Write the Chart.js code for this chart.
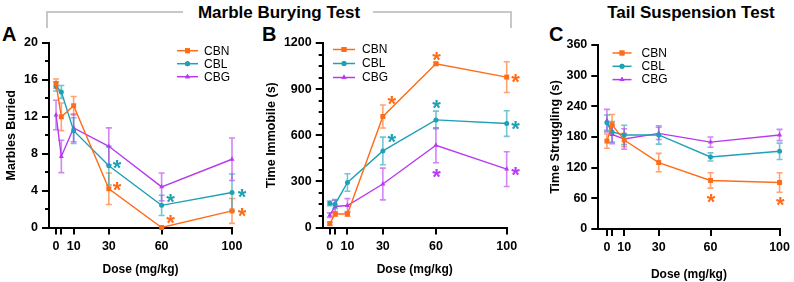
<!DOCTYPE html>
<html><head><meta charset="utf-8">
<script src="https://cdn.jsdelivr.net/npm/chart.js@4/dist/chart.umd.min.js"></script>
<style>
body{margin:0;width:794px;height:282px;overflow:hidden;background:#fff;font-family:"Liberation Sans",Arial,sans-serif;position:relative}
canvas{position:absolute;top:0}
.lbl{position:absolute;font-weight:bold;font-size:20px;line-height:20px;color:#000}
.hdr{position:absolute;font-weight:bold;font-size:17px;line-height:17px;transform:translate(-50%,-50%);white-space:nowrap;color:#000}
.br{position:absolute;background:#c8c8c8}
</style></head><body>
<div class="br" style="left:46px;top:11px;width:137px;height:2px"></div>
<div class="br" style="left:373px;top:11px;width:139px;height:2px"></div>
<div class="br" style="left:46px;top:11px;width:2px;height:17px"></div>
<div class="br" style="left:510px;top:11px;width:2px;height:17px"></div>
<div class="hdr" style="left:279px;top:12px">Marble Burying Test</div>
<div class="hdr" style="left:691px;top:12px">Tail Suspension Test</div>
<div class="lbl" style="left:2px;top:24px">A</div>
<div class="lbl" style="left:262px;top:24px">B</div>
<div class="lbl" style="left:549px;top:24px">C</div>
<canvas id="cA" width="262" height="282" style="left:0px"></canvas>
<canvas id="cB" width="268" height="282" style="left:262px"></canvas>
<canvas id="cC" width="264" height="282" style="left:530px"></canvas>
<script>
// ---- data ----
const doses = [0, 3, 10, 30, 60, 100];
const doseTickLabels = ['0', '', '10', '30', '60', '100'];
const seriesNames = ['CBN', 'CBL', 'CBG'];

// Panel A: Marbles Buried
const mbCBN = [15.6, 12.0, 13.2, 4.2, 0.0, 1.8];
const mbCBN_err = [0.5, 1.5, 1.0, 1.7, 0.1, 1.35];
const mbCBL = [15.3, 14.7, 10.5, 6.7, 2.4, 3.8];
const mbCBL_err = [0.5, 0.7, 1.4, 2.1, 1.1, 2.0];
const mbCBG = [12.2, 7.7, 10.8, 8.8, 4.4, 7.4];
const mbCBG_err = [1.6, 1.75, 1.5, 2.0, 1.5, 2.3];
const mbStars = [
  {x: 34.7, y: 7.0, s: 'CBL'}, {x: 34.7, y: 4.7, s: 'CBN'},
  {x: 65, y: 3.4, s: 'CBL'}, {x: 65, y: 1.05, s: 'CBN'},
  {x: 105.7, y: 3.95, s: 'CBL'}, {x: 105.7, y: 1.8, s: 'CBN'}
];

// Panel B: Time Immobile (s)
const tiCBN = [25, 88, 88, 722, 1065, 978];
const tiCBN_err = [10, 15, 15, 75, 10, 100];
const tiCBL = [157, 152, 293, 498, 700, 676];
const tiCBL_err = [15, 30, 57, 90, 57, 83];
const tiCBG = [80, 137, 143, 283, 535, 380];
const tiCBG_err = [15, 40, 45, 103, 114, 113];
const tiStars = [
  {x: 35, y: 839, s: 'CBN'}, {x: 35, y: 593, s: 'CBL'},
  {x: 60.3, y: 1128, s: 'CBN'}, {x: 60.3, y: 813, s: 'CBL'}, {x: 60.3, y: 363, s: 'CBG'},
  {x: 105, y: 983, s: 'CBN'}, {x: 105, y: 678, s: 'CBL'}, {x: 105, y: 374, s: 'CBG'}
];

// Panel C: Time Struggling (s)
const tsCBN = [172, 204, 174, 130, 95, 91];
const tsCBN_err = [14, 20, 13, 18, 15, 19];
const tsCBL = [208, 190, 184, 184, 141, 152];
const tsCBL_err = [15, 20, 19, 18, 8, 16];
const tsCBG = [212, 185, 176, 187, 170, 184];
const tsCBG_err = [22, 18, 20, 12, 10, 11];
const tsStars = [{x: 60.3, y: 64, s: 'CBN'}, {x: 100.4, y: 57, s: 'CBN'}];

// ---- styles ----
const COLORS = {CBN: 'rgb(255,108,24)', CBL: 'rgb(30,161,181)', CBG: 'rgb(184,58,240)'};
const ERRCOL = {CBN: 'rgba(255,108,24,0.62)', CBL: 'rgba(30,161,181,0.62)', CBG: 'rgba(184,58,240,0.62)'};
const PSTYLE = {CBN: 'rect', CBL: 'circle', CBG: 'triangle'};
const PRAD = {CBN: 3.5, CBL: 2.5, CBG: 2.9};
const FONT = '"Liberation Sans", Arial, sans-serif';

const extras = {
  id: 'extras',
  beforeDatasetsDraw(chart, args, o) {
    const ctx = chart.ctx, xs = chart.scales.x, ys = chart.scales.y;
    ctx.save();
    o.errors.forEach((errs, di) => {
      const name = seriesNames[di];
      const vals = chart.data.datasets[di].data;
      ctx.strokeStyle = ERRCOL[name];
      ctx.lineWidth = 1.6;
      vals.forEach((p, i) => {
        const e = errs[i];
        if (!e) return;
        const px = xs.getPixelForValue(p.x);
        const y1 = ys.getPixelForValue(p.y + e), y2 = ys.getPixelForValue(Math.max(ys.min, p.y - e));
        ctx.beginPath();
        ctx.moveTo(px, y1); ctx.lineTo(px, y2);
        ctx.moveTo(px - 3, y1); ctx.lineTo(px + 3, y1);
        if (p.y - e >= ys.min) { ctx.moveTo(px - 3, y2); ctx.lineTo(px + 3, y2); }
        ctx.stroke();
      });
    });
    ctx.restore();
  },
  afterDraw(chart, args, o) {
    const ctx = chart.ctx, xs = chart.scales.x, ys = chart.scales.y, ca = chart.chartArea;
    ctx.save();
    if (o.minor) {
      ctx.strokeStyle = '#000'; ctx.lineWidth = 2;
      for (let v = ys.min; v <= ys.max + 1e-9; v += o.minor) {
        if (Math.abs(v / o.major - Math.round(v / o.major)) < 1e-6) continue;
        const py = Math.round(ys.getPixelForValue(v));
        ctx.beginPath(); ctx.moveTo(ca.left, py); ctx.lineTo(ca.left - 4, py); ctx.stroke();
      }
    }
    ctx.font = 'bold 22px ' + FONT;
    ctx.textAlign = 'center'; ctx.textBaseline = 'alphabetic';
    o.stars.forEach(s => {
      ctx.fillStyle = COLORS[s.s];
      ctx.fillText('*', xs.getPixelForValue(s.x), ys.getPixelForValue(s.y) + 12.5);
    });
    const L = o.legend;
    ctx.font = '12px ' + FONT; ctx.textAlign = 'left'; ctx.textBaseline = 'middle';
    seriesNames.forEach((n, i) => {
      const y = L.y + i * L.dy;
      ctx.strokeStyle = COLORS[n]; ctx.lineWidth = 1.5;
      ctx.beginPath(); ctx.moveTo(L.x, y); ctx.lineTo(L.x + L.w, y); ctx.stroke();
      ctx.fillStyle = COLORS[n];
      Chart.helpers.drawPoint(ctx, {pointStyle: PSTYLE[n], radius: PRAD[n], rotation: 0, borderWidth: 0}, L.x + L.w / 2, y);
      ctx.fill();
      ctx.fillStyle = '#000';
      ctx.fillText(n, L.x + L.w + L.gap, y + 0.5);
    });
    ctx.restore();
  }
};

function makePanel(id, cfg) {
  const sets = [cfg.cbn, cfg.cbl, cfg.cbg].map((arr, i) => {
    const n = seriesNames[i];
    return {
      label: n,
      data: doses.map((d, k) => ({x: d, y: arr[k]})),
      borderColor: COLORS[n], backgroundColor: COLORS[n],
      borderWidth: 1.4, pointStyle: PSTYLE[n], pointRadius: PRAD[n],
      pointBorderWidth: 0, pointHoverRadius: PRAD[n], tension: 0, clip: false
    };
  });
  return new Chart(document.getElementById(id), {
    type: 'line',
    data: {datasets: sets},
    options: {
      responsive: false, animation: false, events: [],
      layout: {padding: {top: cfg.top, right: cfg.right, left: 0, bottom: 0}},
      plugins: {
        legend: {display: false}, tooltip: {enabled: false},
        extras: {errors: [cfg.cbnE, cfg.cblE, cfg.cbgE], stars: cfg.stars, minor: cfg.minor, major: cfg.step, legend: cfg.legend}
      },
      scales: {
        x: {
          type: 'linear', min: cfg.xmin, max: 100,
          afterBuildTicks: s => { s.ticks = doses.map(v => ({value: v})); },
          afterFit: s => { s.height = cfg.xh; },
          ticks: {autoSkip: false, maxRotation: 0, color: '#000', padding: cfg.xtkPad,
            font: {family: FONT, size: 12.5, weight: 'bold'},
            callback: (v, i) => doseTickLabels[i]},
          grid: {display: true, drawOnChartArea: false, drawTicks: true, tickLength: 7, color: '#000', lineWidth: 2},
          border: {display: true, color: '#000', width: 2},
          title: {display: true, text: 'Dose (mg/kg)', color: '#000', font: {family: FONT, size: 12, weight: 'bold'}, padding: {top: 0, bottom: cfg.xtPad}}
        },
        y: {
          type: 'linear', min: 0, max: cfg.ymax,
          afterFit: s => { s.width = cfg.yw; },
          ticks: {stepSize: cfg.step, color: '#000', padding: 4, font: {family: FONT, size: 12.5, weight: 'bold'},
            callback: v => String(v)},
          grid: {display: true, drawOnChartArea: false, drawTicks: true, tickLength: 7, color: '#000', lineWidth: 2},
          border: {display: true, color: '#000', width: 2},
          title: {display: true, text: cfg.ytitle, color: '#000', font: {family: FONT, size: 12.5, weight: 'bold'}, padding: {top: cfg.ytPad, bottom: 0}}
        }
      }
    },
    plugins: [extras]
  });
}

makePanel('cA', {cbn: mbCBN, cbl: mbCBL, cbg: mbCBG, cbnE: mbCBN_err, cblE: mbCBL_err, cbgE: mbCBG_err,
  stars: mbStars, ymax: 20, step: 4, minor: 2, ytitle: 'Marbles Buried', xmin: -4,
  top: 43, right: 30, yw: 49, xh: 54.5, xtPad: 5, xtkPad: 5, ytPad: 4.5,
  legend: {x: 177, y: 50.7, dy: 13, w: 21, gap: 6}});
makePanel('cB', {cbn: tiCBN, cbl: tiCBL, cbg: tiCBG, cbnE: tiCBN_err, cblE: tiCBL_err, cbgE: tiCBG_err,
  stars: tiStars, ymax: 1200, step: 300, minor: 75, ytitle: 'Time Immobile (s)', xmin: -4,
  top: 43, right: 23.3, yw: 60.7, xh: 54.5, xtPad: 5, xtkPad: 5, ytPad: 2.5,
  legend: {x: 71, y: 49.5, dy: 14, w: 22, gap: 7}});
makePanel('cC', {cbn: tsCBN, cbl: tsCBL, cbg: tsCBG, cbnE: tsCBN_err, cblE: tsCBL_err, cbgE: tsCBG_err,
  stars: tsStars, ymax: 360, step: 60, minor: 0, ytitle: 'Time Struggling (s)', xmin: -5,
  top: 45, right: 10.7, yw: 68.3, xh: 53, xtPad: 0, xtkPad: 4, ytPad: 18.5,
  legend: {x: 82.5, y: 53, dy: 13.3, w: 19, gap: 10}});
</script>
</body></html>
